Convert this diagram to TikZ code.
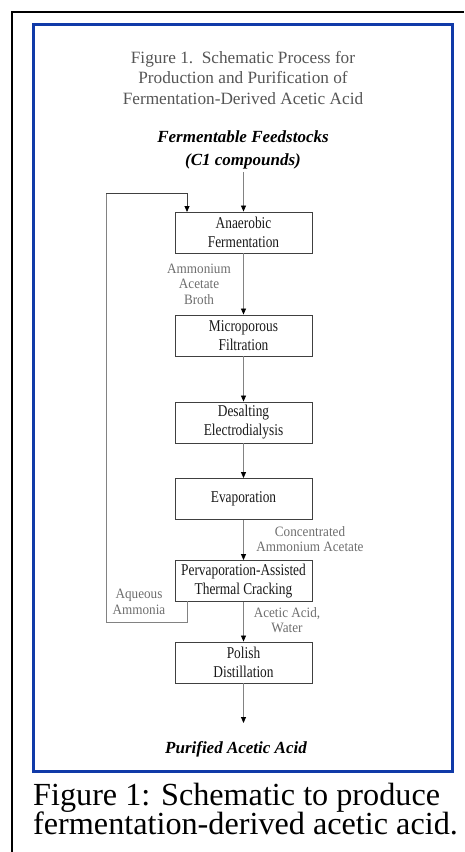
\documentclass[tikz,border=0pt]{standalone}
\usepackage{fontspec}
\setmainfont{Liberation Serif}
\newfontfamily\boxfont[FakeStretch=0.81]{Liberation Serif}
\newfontfamily\labfont[FakeStretch=0.92]{Liberation Serif}
\usetikzlibrary{arrows.meta}
\definecolor{frameblue}{RGB}{16,58,168}
\definecolor{titlegray}{RGB}{85,85,85}
\definecolor{labelgray}{RGB}{110,110,110}
\definecolor{linegray}{RGB}{130,130,130}
\definecolor{boxline}{RGB}{64,64,64}
\begin{document}
\begin{tikzpicture}[x=1pt,y=-1pt,
  procbox/.style={draw=boxline, line width=0.9pt, minimum width=137pt, minimum height=41pt,
    inner sep=0pt, align=center, text=black!90,
    font=\boxfont\fontsize{16.5}{19}\selectfont},
  flowlabel/.style={align=center, inner sep=0pt, text=labelgray,
    font=\labfont\fontsize{14.3}{15.5}\selectfont},
  io/.style={inner sep=0pt, font=\bfseries\itshape\fontsize{17}{20}\selectfont},
  flow/.style={draw=linegray, line width=0.8pt, -{Triangle[width=5pt,length=6pt,color=black]}},
  plain/.style={draw=linegray, line width=0.8pt}]
\useasboundingbox (0,0) rectangle (464,852);
% frames
\draw[line width=1.8pt, black] (12,852) -- (12,12) -- (464,12);
\draw[line width=3pt, frameblue] (33.5,24.5) rectangle (452.5,771);
% title
\node[align=center, inner sep=0pt, text=titlegray, font=\fontsize{17.25}{20.7}\selectfont] (title) at (243,78)
  {Figure 1.\ \ Schematic Process for\\Production and Purification of\\Fermentation-Derived Acetic Acid};
\node[io] (feed1) at (243,137) {Fermentable Feedstocks};
\node[io] (feed) at (243,161) {(C1 compounds)};
% boxes
\node[procbox] (ferm) at (243.5,232.5) {Anaerobic\\Fermentation};
\node[procbox] (filt) at (243.5,335.5) {Microporous\\Filtration};
\node[procbox] (desalt) at (243.5,422.5) {Desalting\\Electrodialysis};
\node[procbox] (evap) at (243.5,499) {Evaporation};
\node[procbox] (perv) at (243.5,581) {Pervaporation-Assisted\\Thermal Cracking};
\node[procbox] (polish) at (243.5,662.5) {Polish\\Distillation};
\node[io] (prod) at (236,749) {Purified Acetic Acid};
\coordinate (prodtop) at (243.5,723);
% labels
\node[flowlabel] (lab1) at (199,284) {Ammonium\\Acetate\\Broth};
\node[flowlabel] (lab2) at (310,539) {Concentrated\\Ammonium Acetate};
\node[flowlabel] (lab3) at (139,602) {Aqueous\\Ammonia};
\node[flowlabel] (lab4) at (287,620) {Acetic Acid,\\Water};
% connectors
\coordinate (feedout) at (243.5,172);
\draw[flow] (feedout) -- (ferm.north);
\draw[flow] (ferm) -- (filt);
\draw[flow] (filt) -- (desalt);
\draw[flow] (desalt) -- (evap);
\draw[flow] (evap) -- (perv);
\draw[flow] (perv) -- (polish);
\draw[flow] (polish) -- (prodtop);
% recycle loop
\coordinate (rA) at (187,601);
\coordinate (rB) at (187,622);
\coordinate (rC) at (106,622);
\coordinate (rD) at (106,193);
\coordinate (rE) at (187,193);
\coordinate (rF) at (187,212);
\draw[plain] (rA) -- (rB) -- (rC) -- (rD);
\draw[flow, draw=black!75] (rD) -- (rE) -- (rF);
% caption
\node[anchor=base west, inner sep=0pt, font=\fontsize{32.2}{29}\selectfont] (cap1) at (33,805) {Figure 1: Schematic to produce};
\node[anchor=base west, inner sep=0pt, font=\fontsize{32.2}{29}\selectfont] (cap2) at (33,834) {fermentation-derived acetic acid.};
\end{tikzpicture}
\end{document}
